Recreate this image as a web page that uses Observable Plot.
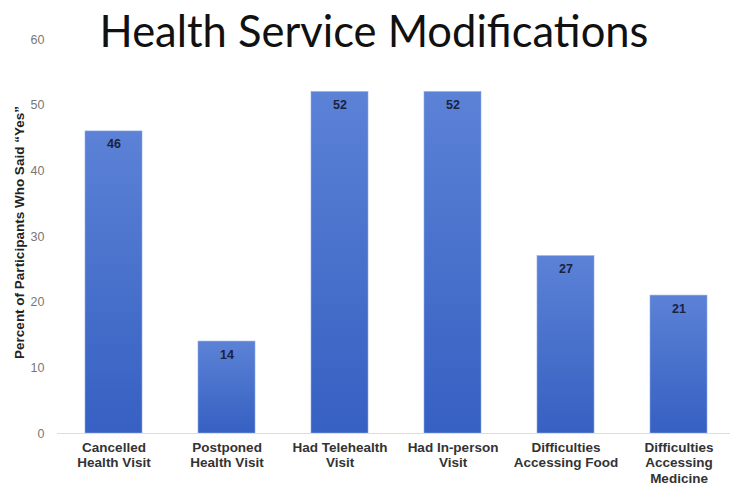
<!DOCTYPE html>
<html>
<head>
<meta charset="utf-8">
<script src="https://cdn.jsdelivr.net/npm/d3@7"></script>
<script src="https://cdn.jsdelivr.net/npm/@observablehq/plot@0.6"></script>
<style>
  html, body { margin: 0; padding: 0; background: #fff; }
  #chart { width: 730px; height: 486px; overflow: hidden; }
</style>
</head>
<body>
<div id="chart"></div>
<script>
const categories = [
  "Cancelled\nHealth Visit",
  "Postponed\nHealth Visit",
  "Had Telehealth\nVisit",
  "Had In-person\nVisit",
  "Difficulties\nAccessing Food",
  "Difficulties\nAccessing\nMedicine"
];
const values = [46, 14, 52, 52, 27, 21];
const yTicks = [0, 10, 20, 30, 40, 50, 60];
const title = "Health Service Modifications";
const yLabel = "Percent of Participants Who Said \u201cYes\u201d";

const data = categories.map((c, i) => ({category: c, value: values[i]}));

const plot = Plot.plot({
  width: 730,
  height: 486,
  marginTop: 39,
  marginBottom: 53,
  marginLeft: 57,
  marginRight: 0,
  style: {fontFamily: "Liberation Sans, Arial, sans-serif", background: "#fff", overflow: "hidden"},
  x: {domain: categories, range: [57, 735], paddingInner: 0.5, paddingOuter: 0.25, label: null},
  y: {domain: [0, 60], ticks: yTicks, label: null},
  marks: [
    Plot.axisY({ticks: yTicks, tickSize: 0, tickPadding: 13, fontSize: 12.5, fill: "#777", label: null}),
    Plot.text([yLabel], {frameAnchor: "left", textAnchor: "middle", dx: -38, dy: -4, rotate: -90, fontSize: 13.5, fontWeight: "bold", fill: "#222"}),
    Plot.axisX({tickSize: 0, tickPadding: 7, fontSize: 13.5, fontWeight: "bold", fill: "#333", lineHeight: 1.15, label: null}),
    Plot.barY(data, {x: "category", y: "value", fill: "url(#barGrad)", stroke: "#8fa9e6", strokeWidth: 0.6}),
    Plot.ruleY([0], {stroke: "#ddd", strokeWidth: 1.2}),
    Plot.text(data, {x: "category", y: "value", text: d => String(d.value), dy: 13, fontSize: 12.5, fontWeight: "bold", fill: "#1a2240"}),
    Plot.text([title], {frameAnchor: "top", dx: -20, dy: -23, fontSize: 43.5, fontFamily: "Lato, sans-serif", fill: "#111"})
  ]
});

const svg = d3.select(plot);
const defs = svg.insert("defs", ":first-child");
const grad = defs.append("linearGradient")
  .attr("id", "barGrad").attr("x1", 0).attr("y1", 0).attr("x2", 0).attr("y2", 1);
grad.append("stop").attr("offset", "0%").attr("stop-color", "#5b82d6");
grad.append("stop").attr("offset", "100%").attr("stop-color", "#3660c2");

document.getElementById("chart").appendChild(plot);
</script>
</body>
</html>
